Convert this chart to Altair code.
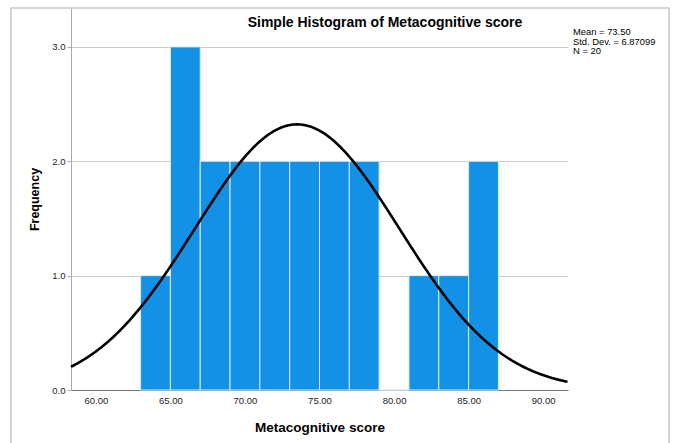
import altair as alt
import pandas as pd

# ---- data ----
bin_start = [63, 65, 67, 69, 71, 73, 75, 77, 79, 81, 83, 85]
bin_end = [65, 67, 69, 71, 73, 75, 77, 79, 81, 83, 85, 87]
counts = [1, 3, 2, 2, 2, 2, 2, 2, 0, 1, 1, 2]
x_ticks = [60, 65, 70, 75, 80, 85, 90]
y_ticks = [0, 1, 2, 3]
mean_val = 73.50
sd_val = 6.87099
n_val = 20
bin_width = 2
x_min, x_max = 58.333, 91.667
y_max = 3.34

title_text = "Simple Histogram of Metacognitive score"
stats_text = f"Mean = {mean_val:.2f}\nStd. Dev. = {sd_val}\nN = {n_val}"

FONT = "Liberation Sans"
W, H = 497, 382

bars_df = pd.DataFrame({"start": bin_start, "end": bin_end, "count": counts})

xscale = alt.Scale(domain=[x_min, x_max], nice=False, zero=False)
yscale = alt.Scale(domain=[0, y_max], nice=False)

bars = alt.Chart(bars_df).mark_rect(
    color="#1391e6", stroke="#d8ecfb", strokeWidth=1
).encode(
    x=alt.X("start:Q", scale=xscale,
            axis=alt.Axis(values=x_ticks, format=".2f", title="Metacognitive score",
                          grid=False, ticks=False, labelPadding=5,
                          domainColor="#777777", titlePadding=16)),
    x2="end:Q",
    y=alt.Y("count:Q", scale=yscale,
            axis=alt.Axis(values=y_ticks, format=".1f", title="Frequency",
                          grid=True, gridColor="#cccccc", tickSize=4, tickColor="#aaaaaa",
                          domainColor="#aaaaaa", labelPadding=2, titlePadding=10)),
    y2=alt.datum(0),
)

curve = alt.Chart(alt.sequence(x_min, x_max + 0.05, 0.1, as_="x")).transform_calculate(
    y=f"densityNormal(datum.x, {mean_val}, {sd_val}) * {n_val} * {bin_width}"
).mark_line(color="black", strokeWidth=2.6).encode(
    x=alt.X("x:Q", scale=xscale),
    y=alt.Y("y:Q", scale=yscale),
)

one = pd.DataFrame({"t": [title_text], "s": [stats_text]})

title = alt.Chart(one).mark_text(
    font=FONT, fontSize=14, fontWeight="bold", color="black", align="center", baseline="middle"
).encode(x=alt.value(314), y=alt.value(15), text="t:N")

stats = alt.Chart(one).mark_text(
    font=FONT, fontSize=9.4, color="black", align="left", baseline="top", lineBreak="\n", lineHeight=9.6
).encode(x=alt.value(502), y=alt.value(20), text="s:N")

frame = alt.Chart(one).mark_rect(
    fill=None, stroke="#c8c8c8", strokeWidth=1.5, clip=False
).encode(x=alt.value(-60), x2=alt.value(598), y=alt.value(0), y2=alt.value(470))

chart = alt.layer(frame, bars, curve, title, stats).properties(
    width=W, height=H,
    autosize=alt.AutoSizeParams(type="none"),
    padding={"left": 71, "top": 8, "right": 109, "bottom": 53},
).configure_view(stroke=None).configure_axis(
    labelFont=FONT, titleFont=FONT, labelFontSize=9.5, labelColor="#222222",
    titleFontSize=13.5, titleFontWeight="bold", titleColor="black",
).configure_axisY(titleFontSize=12.5)

chart.save("out.html", embed_options={"renderer": "svg", "actions": False})
